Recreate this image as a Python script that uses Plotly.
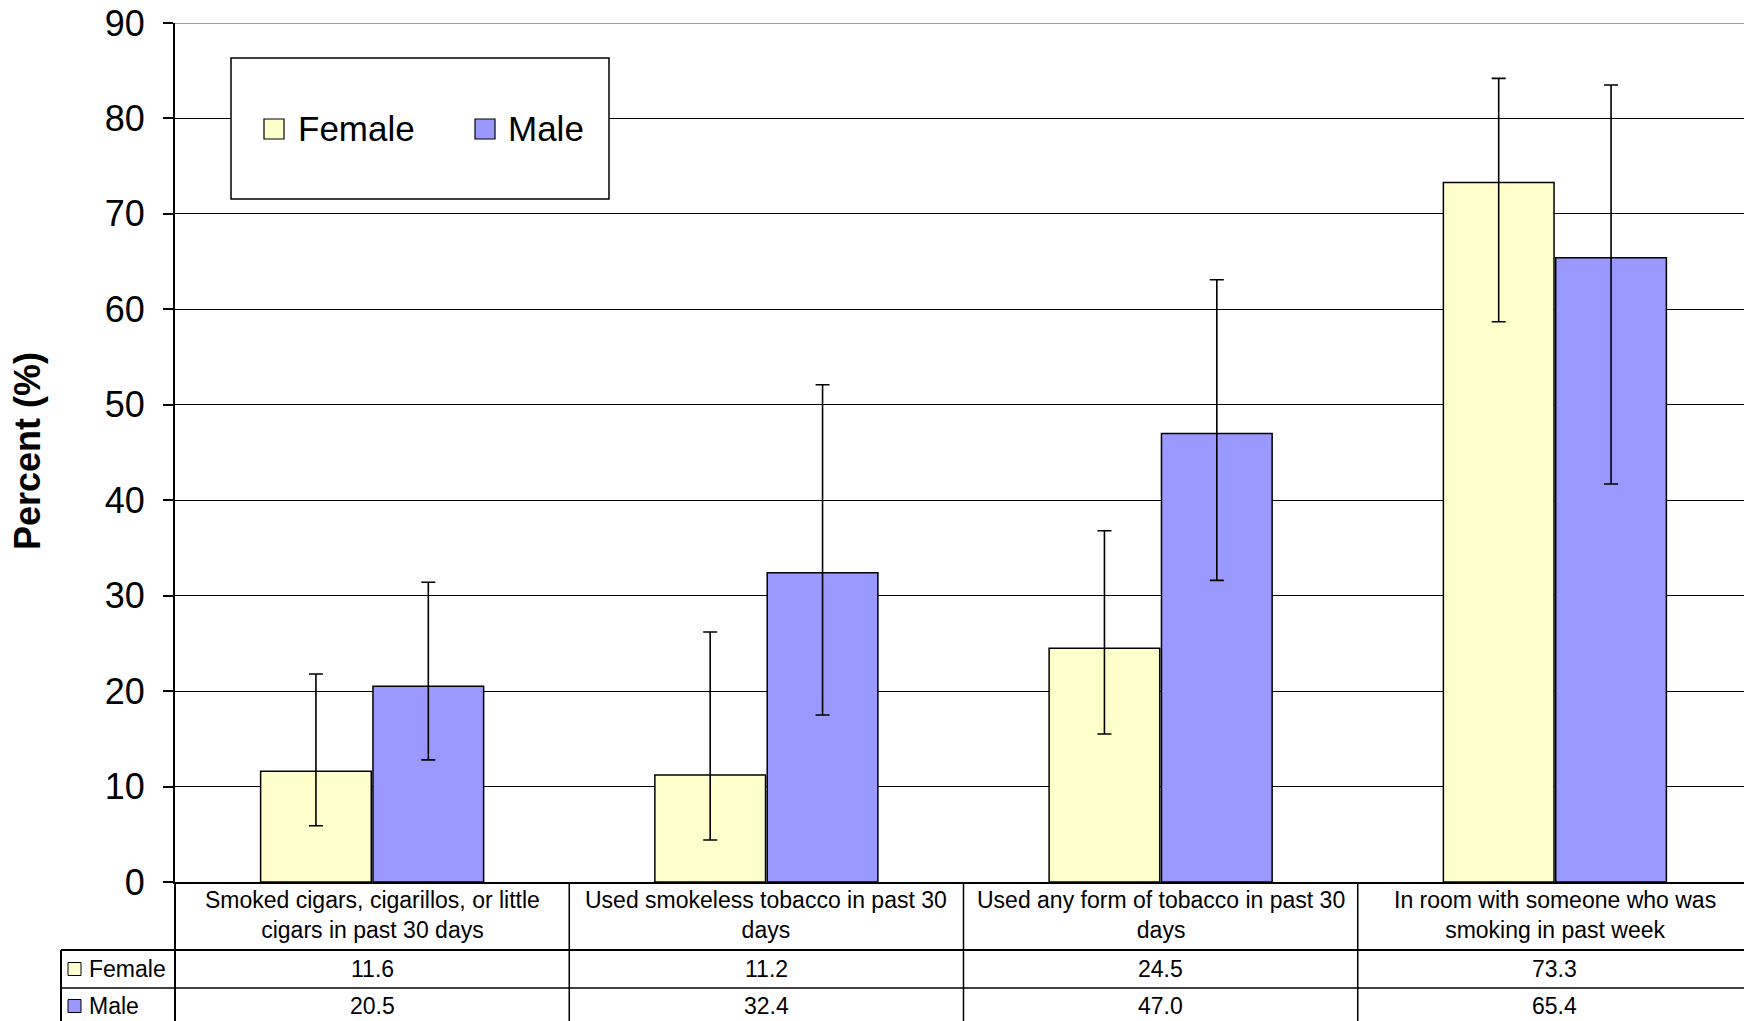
import plotly.graph_objects as go

# ---------------- data ----------------
categories = [
    "Smoked cigars, cigarillos, or little<br>cigars in past 30 days",
    "Used smokeless tobacco in past 30<br>days",
    "Used any form of tobacco in past 30<br>days",
    "In room with someone who was<br>smoking in past week",
]
series_names = ["Female", "Male"]
female_values = [11.6, 11.2, 24.5, 73.3]
male_values = [20.5, 32.4, 47.0, 65.4]
female_upper = [21.8, 26.2, 36.8, 84.2]
female_lower = [5.9, 4.4, 15.5, 58.7]
male_upper = [31.4, 52.1, 63.1, 83.5]
male_lower = [12.8, 17.5, 31.6, 41.7]
y_ticks = [0, 10, 20, 30, 40, 50, 60, 70, 80, 90]

# ---------------- style ----------------
OFF = 8  # page body margin
W, H = 1752 - OFF, 1021 - OFF
# page-coordinate targets
PAGE_LEFT, PAGE_RIGHT, PAGE_TOP, PAGE_BOTTOM = 175, 1752, 23, 882
L = PAGE_LEFT - OFF
R = 0
T = PAGE_TOP - OFF
B = H - (PAGE_BOTTOM - OFF)
PW, PH = W - L - R, H - T - B
FONT = "Liberation Sans, Arial, sans-serif"
FEMALE_COLOR = "#FFFFCC"
MALE_COLOR = "#9999FF"


def px(xp):
    """page x pixel -> paper coordinate"""
    return (xp - OFF - L) / PW


def py(yp):
    """page y pixel -> paper coordinate"""
    return (H - B - (yp - OFF)) / PH


cat_idx = list(range(len(categories)))

fig = go.Figure()
for name, vals, up, lo, col in [
    ("Female", female_values, female_upper, female_lower, FEMALE_COLOR),
    ("Male", male_values, male_upper, male_lower, MALE_COLOR),
]:
    fig.add_trace(go.Bar(
        name=name, x=cat_idx, y=vals,
        marker=dict(color=col, line=dict(color="black", width=1.5)),
        error_y=dict(type="data", symmetric=False,
                     array=[u - v for u, v in zip(up, vals)],
                     arrayminus=[v - l for v, l in zip(vals, lo)],
                     color="black", thickness=1.6, width=7),
        showlegend=False, hoverinfo="x+y",
    ))

shapes = []
annotations = []

# top border (gray) at 90
shapes.append(dict(type="line", xref="paper", yref="y", x0=0, x1=1, y0=90, y1=90,
                   line=dict(color="#808080", width=1.5), layer="above"))

# legend box
shapes.append(dict(type="rect", xref="paper", yref="paper",
                   x0=px(231), x1=px(609), y0=py(199), y1=py(58),
                   fillcolor="white", line=dict(color="black", width=1.5), layer="above"))
leg_items = [(264, 296, FEMALE_COLOR, series_names[0]), (475, 506, MALE_COLOR, series_names[1])]
for sx, tx, col, name in leg_items:
    shapes.append(dict(type="rect", xref="paper", yref="paper",
                       x0=px(sx), x1=px(sx + 20), y0=py(139), y1=py(119),
                       fillcolor=col, line=dict(color="black", width=1.2), layer="above"))
    annotations.append(dict(text=name, xref="paper", yref="paper", x=px(tx), y=py(129),
                            xanchor="left", yanchor="middle", showarrow=False,
                            font=dict(family=FONT, size=35, color="black")))

# y-axis title
annotations.append(dict(text="<b>Percent (%)</b>", xref="paper", yref="paper",
                        x=px(27), y=py(451), textangle=-90, showarrow=False,
                        xanchor="center", yanchor="middle",
                        font=dict(family=FONT, size=36, color="black")))

# ---------------- data table below the axis ----------------
row1, row2, bottom = 950, 988, 1021
col_bounds = [PAGE_LEFT + (PAGE_RIGHT - PAGE_LEFT) * k / len(categories)
              for k in range(len(categories) + 1)]

# vertical lines
for i, xb in enumerate(col_bounds):
    xb_draw = min(xb, 1750)
    shapes.append(dict(type="line", xref="paper", yref="paper",
                       x0=px(xb_draw), x1=px(xb_draw), y0=py(PAGE_BOTTOM), y1=py(bottom + 5),
                       line=dict(color="black", width=1.5 if 0 < i < len(col_bounds) - 1 else 2)))
shapes.append(dict(type="line", xref="paper", yref="paper",
                   x0=px(61), x1=px(61), y0=py(row1), y1=py(bottom + 5),
                   line=dict(color="black", width=2)))
# horizontal lines
shapes.append(dict(type="line", xref="paper", yref="paper",
                   x0=px(61), x1=px(1752), y0=py(row1), y1=py(row1),
                   line=dict(color="black", width=2)))
shapes.append(dict(type="line", xref="paper", yref="paper",
                   x0=px(61), x1=px(1752), y0=py(row2), y1=py(row2),
                   line=dict(color="black", width=1.5)))

# header texts
for i, cat in enumerate(categories):
    annotations.append(dict(text=cat, xref="x", yref="paper", x=i, y=py(915),
                            xanchor="center", yanchor="middle", showarrow=False,
                            align="center",
                            font=dict(family=FONT, size=23, color="black")))
# value rows
for vals, yc, col, name in [(female_values, 969, FEMALE_COLOR, series_names[0]),
                            (male_values, 1006, MALE_COLOR, series_names[1])]:
    for i, v in enumerate(vals):
        annotations.append(dict(text=f"{v:.1f}", xref="x", yref="paper", x=i, y=py(yc),
                                xanchor="center", yanchor="middle", showarrow=False,
                                font=dict(family=FONT, size=23, color="black")))
    shapes.append(dict(type="rect", xref="paper", yref="paper",
                       x0=px(68), x1=px(81), y0=py(yc + 6.5), y1=py(yc - 6.5),
                       fillcolor=col, line=dict(color="black", width=1)))
    annotations.append(dict(text=name, xref="paper", yref="paper", x=px(87), y=py(yc),
                            xanchor="left", yanchor="middle", showarrow=False,
                            font=dict(family=FONT, size=23, color="black")))

fig.update_layout(
    width=W, height=H,
    margin=dict(l=L, r=R, t=T, b=B, pad=0, autoexpand=False),
    paper_bgcolor="white", plot_bgcolor="white",
    barmode="group", bargap=0.43, bargroupgap=0.015,
    font=dict(family=FONT, color="black"),
    shapes=shapes, annotations=annotations,
    showlegend=False,
)
fig.update_xaxes(range=[-0.5, len(categories) - 0.5], showticklabels=False,
                 showgrid=False, zeroline=False, showline=True, automargin=False,
                 linecolor="black", linewidth=2, ticks="", fixedrange=True)
fig.update_yaxes(range=[0, 90], tickvals=y_ticks, ticktext=[str(t) for t in y_ticks],
                 showgrid=True, gridcolor="black", gridwidth=1.2, automargin=False,
                 zeroline=False, showline=True, linecolor="black", linewidth=2,
                 ticks="outside", ticklen=10, tickwidth=1.5, tickcolor="black",
                 ticklabelstandoff=11, ticklabeloverflow="allow",
                 tickfont=dict(family=FONT, size=36, color="black"), fixedrange=True)

fig.write_html("out.html")
